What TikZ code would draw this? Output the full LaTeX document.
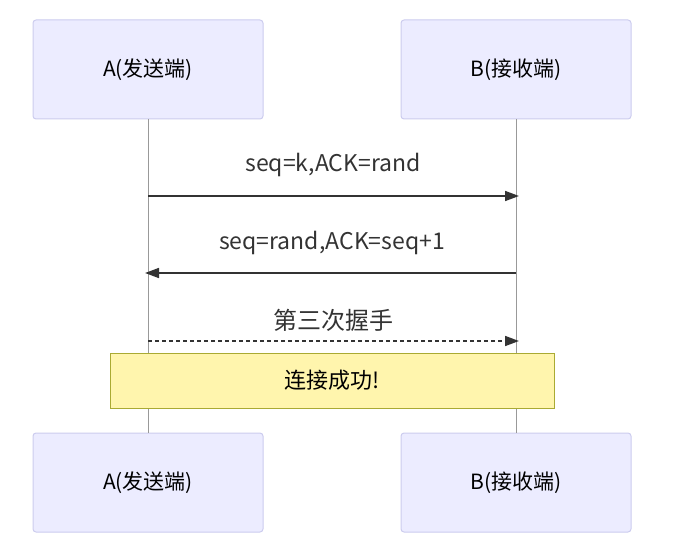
\documentclass[tikz,border=0pt]{standalone}
\usepackage{fontspec}
\newfontfamily\cjk{Noto Sans CJK SC}
\usetikzlibrary{arrows.meta}
\begin{document}
\begin{tikzpicture}[x=1pt,y=-1pt]
\definecolor{actfill}{RGB}{236,236,255}
\definecolor{actline}{RGB}{204,204,238}
\definecolor{notefill}{RGB}{255,245,173}
\definecolor{noteline}{RGB}{170,170,51}
\definecolor{life}{RGB}{153,153,153}
\definecolor{msg}{RGB}{51,51,51}
\tikzset{
  actor/.style={draw=actline,fill=actfill,rounded corners=3pt,line width=1pt,
    minimum width=230pt,minimum height=99pt,font=\cjk\fontsize{21}{24}\selectfont,inner sep=0pt},
  msgline/.style={draw=msg,line width=1.6pt,-{Triangle[length=14pt,width=10pt]}},
  msglabel/.style={font=\cjk\fontsize{23}{26}\selectfont,text=msg,inner sep=0pt}
}
\useasboundingbox (0,0) rectangle (676,553);

% actors
\node[actor] (Atop) at (148,69.5) {A(发送端)};
\node[actor] (Btop) at (516,69.5) {B(接收端)};
\node[actor] (Abot) at (148,482.5) {A(发送端)};
\node[actor] (Bbot) at (516,482.5) {B(接收端)};

% lifelines
\draw[life,line width=1pt] (Atop.south) -- (Abot.north);
\draw[life,line width=1pt] (Btop.south) -- (Bbot.north);

% messages
\coordinate (a1) at (148,196); \coordinate (b1) at (519,196);
\coordinate (b2) at (516,273); \coordinate (a2) at (145,273);
\coordinate (a3) at (148,341); \coordinate (b3) at (519,341);
\draw[msgline] (a1) -- (b1);
\node[msglabel] (m1) at (333,165) {seq=k,ACK=rand};
\draw[msgline] (b2) -- (a2);
\node[msglabel] (m2) at (332,243) {seq=rand,ACK=seq+1};
\draw[msgline,dash pattern=on 4pt off 3pt] (a3) -- (b3);
\node[msglabel,font=\cjk\fontsize{24}{27}\selectfont] (m3) at (333,320) {第三次握手};

% note
\node[draw=noteline,fill=notefill,line width=1pt,minimum width=444pt,minimum height=55pt,
  font=\cjk\fontsize{22}{25}\selectfont,inner sep=0pt] (ok) at (332,380.5) {连接成功!};
\end{tikzpicture}
\end{document}
